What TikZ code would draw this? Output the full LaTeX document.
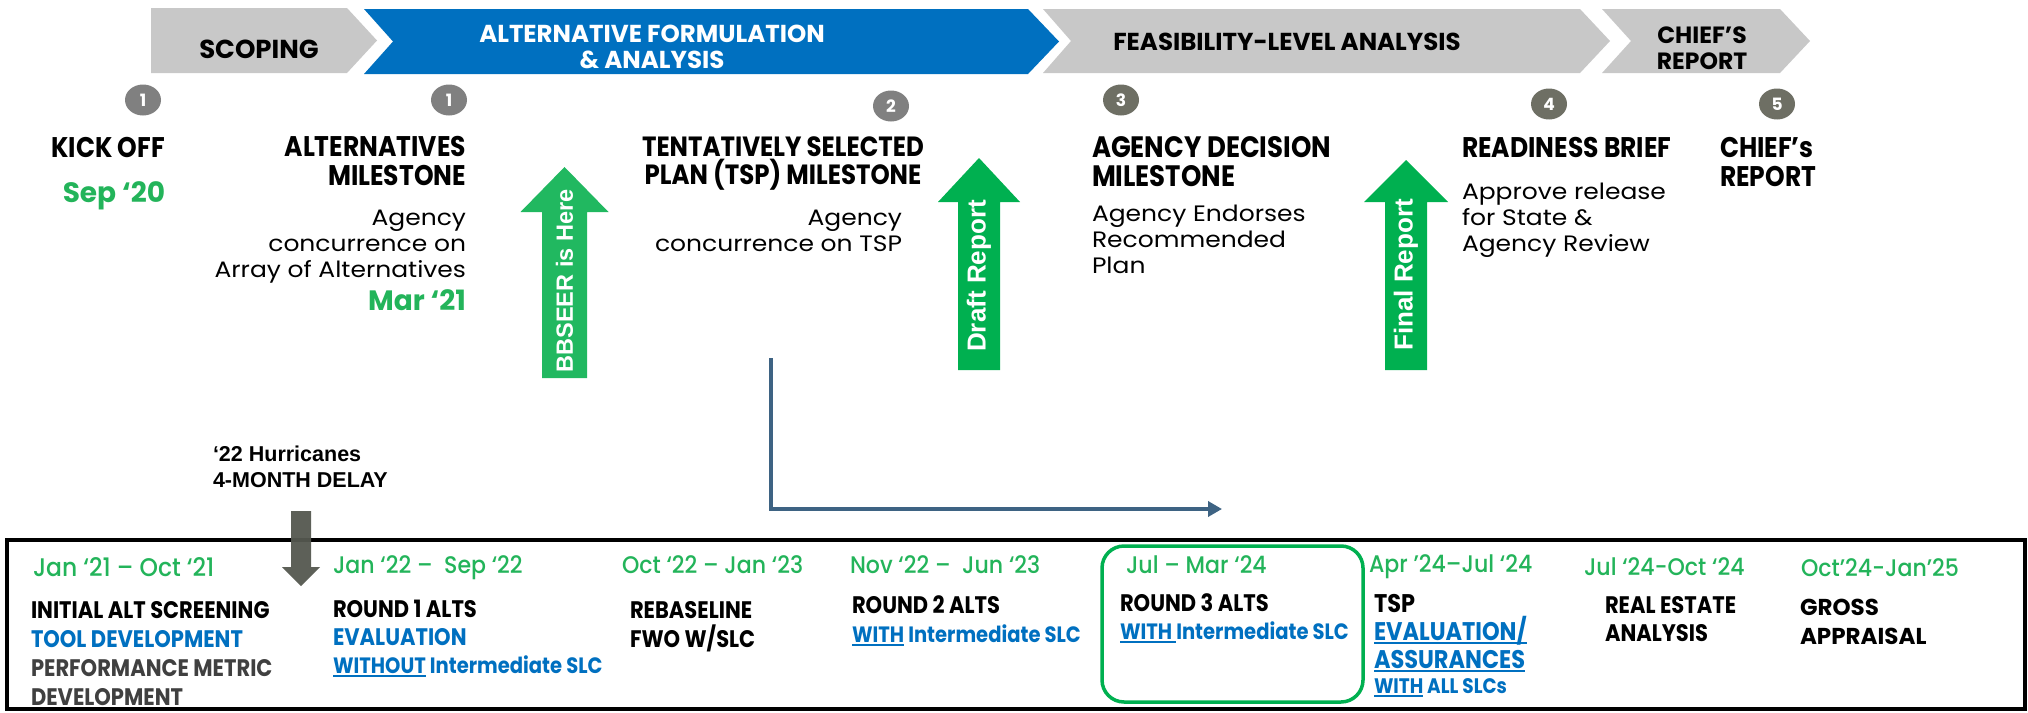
\documentclass[tikz,border=0pt]{standalone}
\usepackage{fontspec}
\setmainfont{Poppins}
\newfontfamily\cg{Poppins}
% narrow and wide cuts of the same family
\newfontfamily\cgn{Poppins}[FakeStretch=0.88]
\newfontfamily\cgw{Poppins}[FakeStretch=1.12]
\newfontfamily\cgmed{Poppins}[UprightFont=* Medium,FakeStretch=0.92]
\newfontfamily\arial{Liberation Sans}
\usetikzlibrary{arrows.meta,shapes.geometric}

\definecolor{bannergrey}{RGB}{200,200,200}
\definecolor{bannerblue}{RGB}{0,112,192}
\definecolor{tgreen}{RGB}{35,180,90}
\definecolor{agreen}{RGB}{33,184,96}
\definecolor{bgreen}{RGB}{0,176,80}
\definecolor{tblue}{RGB}{0,112,192}
\definecolor{dgrey}{RGB}{64,64,64}
\definecolor{circA}{RGB}{128,128,128}
\definecolor{circB}{RGB}{110,111,100}
\definecolor{linkblue}{RGB}{62,99,131}
\definecolor{delaygrey}{RGB}{85,88,80}

% underline drawn as a solid bar under the word
\newcommand{\ulbar}[1]{\setbox0=\hbox{#1}\rlap{\rule[-4pt]{\wd0}{2.2pt}}\box0\relax}

\begin{document}
\begin{tikzpicture}[x=1pt,y=-1pt,
  txt/.style={inner sep=0pt,outer sep=0pt},
  bannertext/.style={txt,align=center,font=\cg\bfseries\fontsize{24.5}{26}\selectfont},
  head/.style={txt,font=\cgn\bfseries\fontsize{28.4}{29}\selectfont},
  body/.style={txt,font=\cgw\fontsize{22.3}{26}\selectfont},
  gdate/.style={txt,text=tgreen,font=\cg\bfseries\fontsize{28}{29}\selectfont},
  num/.style={ellipse,inner sep=0pt,minimum width=36pt,minimum height=31pt,text=white,font=\cg\bfseries\fontsize{17}{17}\selectfont},
  arrowtext/.style={txt,rotate=90,text=white,font=\arial\bfseries\fontsize{26}{26}\selectfont},
  period/.style={txt,anchor=base west,text=tgreen,font=\cgmed\fontsize{24}{24}\selectfont},
  task/.style={txt,anchor=base west,align=left,font=\cgn\bfseries\fontsize{23.9}{28.5}\selectfont},
]
\useasboundingbox (0,0) rectangle (2028,712);
\fill[white] (0,0) rectangle (2028,712);

% ---- phase banner ----
\fill[bannergrey] (151,8) -- (347,8) -- (377,40.5) -- (347,73) -- (151,73) -- cycle;
\fill[bannerblue] (364,9) -- (1028,9) -- (1059,41.5) -- (1028,74) -- (364,74) -- (393,41.5) -- cycle;
\fill[bannergrey] (1043,9) -- (1580,9) -- (1610,41) -- (1580,73) -- (1043,73) -- (1071,41) -- cycle;
\fill[bannergrey] (1602,9) -- (1780,9) -- (1810,41) -- (1780,73) -- (1602,73) -- (1631,41) -- cycle;

\node[bannertext,font=\cg\bfseries\fontsize{26}{26}\selectfont] (pscope) at (259,49) {SCOPING};
\node[bannertext,text=white] (palt) at (652,47) {ALTERNATIVE FORMULATION\\\& ANALYSIS};
\node[bannertext] (pfeas) at (1287,42) {FEASIBILITY-LEVEL ANALYSIS};
\node[bannertext,font=\cg\bfseries\fontsize{23.5}{26}\selectfont] (pchief) at (1702,48) {CHIEF’S\\REPORT};

% ---- milestone numbers ----
\node[num,fill=circA] (n1) at (143,100) {1};
\node[num,fill=circA] (n2) at (449,100) {1};
\node[num,fill=circA] (n3) at (891,106) {2};
\node[num,fill=circB] (n4) at (1121,100) {3};
\node[num,fill=circB] (n5) at (1549,104) {4};
\node[num,fill=circB] (n6) at (1777,104) {5};

% ---- milestone texts (multi-line nodes sit on the baseline of their last line) ----
\node[head,anchor=base] (kick) at (108,157) {KICK OFF};
\node[gdate,anchor=base] (kickdate) at (114,202) {Sep ‘20};

\node[head,anchor=base east,align=right] (althead) at (466,185) {ALTERNATIVES\\MILESTONE};
\node[body,anchor=base east,align=right] (altbody) at (466,277) {Agency\\concurrence on\\Array of Alternatives};
\node[gdate,anchor=base east] (altdate) at (466,310.5) {Mar ‘21};

\node[head,anchor=base,align=center,font=\cgn\bfseries\fontsize{27.8}{28}\selectfont] (tsphead) at (783,184) {TENTATIVELY SELECTED\\PLAN (TSP) MILESTONE};
\node[body,anchor=base east,align=right] (tspbody) at (902,251) {Agency\\concurrence on TSP};

\node[head,anchor=base west,align=left,font=\cgn\bfseries\fontsize{29.5}{29}\selectfont] (adhead) at (1092,186) {AGENCY DECISION\\MILESTONE};
\node[body,anchor=base west,align=left] (adbody) at (1092,273) {Agency Endorses\\Recommended\\Plan};

\node[head,anchor=base west] (rbhead) at (1462,157) {READINESS BRIEF};
\node[body,anchor=base west,align=left] (rbbody) at (1462,251) {Approve release\\for State \&\\Agency Review};

\node[head,anchor=base west,align=left] (crhead) at (1720,186) {CHIEF’s\\REPORT};

% ---- report arrows ----
\fill[agreen] (564.5,167) -- (608.5,212) -- (587,212) -- (587,378) -- (542,378) -- (542,212) -- (520.5,212) -- cycle;
\node[arrowtext,font=\arial\bfseries\fontsize{23.5}{23.5}\selectfont] (bbseer) at (564.5,281) {BBSEER is Here};

\fill[bgreen] (979,158) -- (1020,202) -- (1000,202) -- (1000,370) -- (958,370) -- (958,202) -- (938,202) -- cycle;
\node[arrowtext] (draft) at (979,276) {Draft Report};

\fill[bgreen] (1406,160) -- (1448,202) -- (1427,202) -- (1427,370) -- (1385,370) -- (1385,202) -- (1364,202) -- cycle;
\node[arrowtext] (final) at (1406,275) {Final Report};

% ---- schedule shift link ----
\coordinate (shiftstart) at (771,358);
\coordinate (shiftend) at (1222,509);
\draw[linkblue,line width=4.5pt,-{Triangle[length=14pt,width=15pt]}] (shiftstart) |- (shiftend);

% ---- hurricane delay ----
\node[txt,anchor=base west,align=left,font=\arial\bfseries\fontsize{21.5}{26}\selectfont] (hurr) at (213,487) {‘22 Hurricanes\\4-MONTH DELAY};

% ---- schedule box ----
\draw[black,line width=4pt] (7,540) rectangle (2025,709);
\draw[bgreen,line width=3.5pt,rounded corners=22pt] (1102,546) rectangle (1363,702);

\fill[delaygrey,opacity=0.95] (291,511) -- (311,511) -- (311,567) -- (320,567) -- (301,586) -- (282,567) -- (291,567) -- cycle;

\node[period,font=\cgmed\fontsize{25.5}{25.5}\selectfont] (d1) at (33,576) {Jan ‘21 – Oct ‘21};
\node[task,font=\cgn\bfseries\fontsize{23.9}{29}\selectfont] (t1) at (31,705) {INITIAL ALT SCREENING\\\textcolor{tblue}{TOOL DEVELOPMENT}\\\textcolor{dgrey}{PERFORMANCE METRIC}\\\textcolor{dgrey}{DEVELOPMENT}};

\node[period] (d2) at (333,573) {Jan ‘22 –\ \ Sep ‘22};
\node[task,font=\cgn\bfseries\fontsize{23.9}{28}\selectfont] (t2) at (333,673) {ROUND 1 ALTS\\\textcolor{tblue}{EVALUATION}\\\textcolor{tblue}{\cgn\bfseries\fontsize{22.2}{28}\selectfont\ulbar{WITHOUT} Intermediate SLC}};

\node[period] (d3) at (622,573) {Oct ‘22 – Jan ‘23};
\node[task,font=\cgn\bfseries\fontsize{23.9}{29}\selectfont] (t3) at (630,647) {REBASELINE\\FWO W/SLC};

\node[period] (d4) at (850,573) {Nov ‘22 –\ \ Jun ‘23};
\node[task,font=\cgn\bfseries\fontsize{23.9}{29}\selectfont] (t4) at (852,642) {ROUND 2 ALTS\\\textcolor{tblue}{\cgn\bfseries\fontsize{22.2}{29}\selectfont\ulbar{WITH} Intermediate SLC}};

\node[period] (d5) at (1126,573) {Jul – Mar ‘24};
\node[task,font=\cgn\bfseries\fontsize{23.9}{28}\selectfont] (t5) at (1120,639) {ROUND 3 ALTS\\\textcolor{tblue}{\cgn\bfseries\fontsize{22.2}{28}\selectfont\ulbar{WITH\ }Intermediate SLC}};

\node[period] (d6) at (1369,572) {Apr ’24–Jul ‘24};
\node[task,font=\cgn\bfseries\fontsize{25.5}{28}\selectfont] (t6) at (1374,668) {TSP\\\textcolor{tblue}{\ulbar{EVALUATION/}}\\\textcolor{tblue}{\ulbar{ASSURANCES}}};
\node[task,text=tblue,font=\cgn\bfseries\fontsize{21}{21}\selectfont] (t6b) at (1374,693) {\ulbar{WITH} ALL SLCs};

\node[period] (d7) at (1584,575) {Jul ‘24-Oct ‘24};
\node[task,font=\cgn\bfseries\fontsize{23.9}{28}\selectfont] (t7) at (1605,641) {REAL ESTATE\\ANALYSIS};

\node[period] (d8) at (1801,576) {Oct’24-Jan’25};
\node[task,font=\cg\bfseries\fontsize{23}{29}\selectfont] (t8) at (1800,644) {GROSS\\APPRAISAL};
\end{tikzpicture}
\end{document}
